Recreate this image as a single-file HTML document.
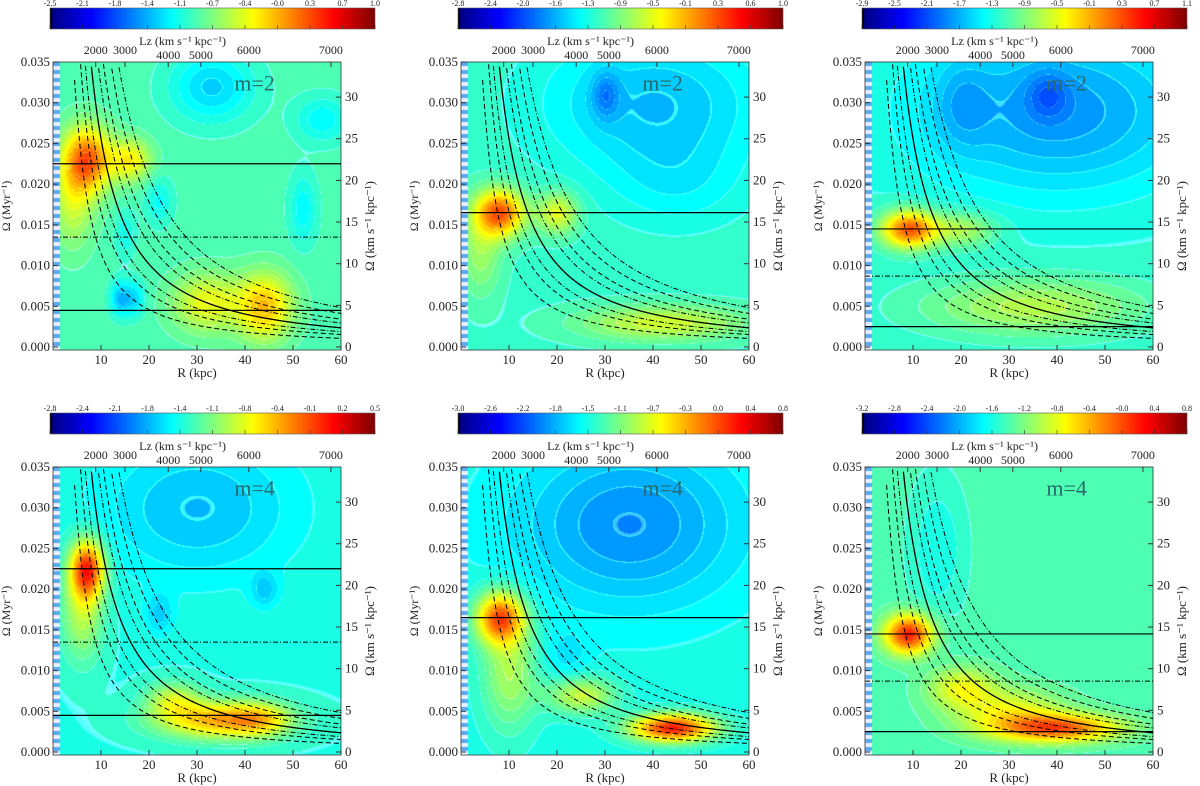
<!DOCTYPE html>
<html><head><meta charset="utf-8">
<style>
html,body{margin:0;padding:0;background:#fff;}
#wrap{position:relative;width:1200px;height:786px;overflow:hidden;font-family:"Liberation Serif",serif;}
canvas{position:absolute;}
svg{position:absolute;left:0;top:0;}
</style></head>
<body>
<div id="wrap">
<svg id="ov" width="1200" height="786"></svg>
</div>
<script>
// ---------- data ----------
const panelTitles = ["m=2","m=2","m=2","m=4","m=4","m=4"];
const cbarLabels = [
 ["-2.5","-2.1","-1.8","-1.4","-1.1","-0.7","-0.4","-0.0","0.3","0.7","1.0"],
 ["-2.8","-2.4","-2.0","-1.6","-1.3","-0.9","-0.5","-0.1","0.3","0.6","1.0"],
 ["-2.9","-2.5","-2.1","-1.7","-1.3","-0.9","-0.5","-0.1","0.3","0.7","1.1"],
 ["-2.8","-2.4","-2.1","-1.8","-1.4","-1.1","-0.8","-0.4","-0.1","0.2","0.5"],
 ["-3.0","-2.6","-2.2","-1.8","-1.5","-1.1","-0.7","-0.3","0.0","0.4","0.8"],
 ["-3.2","-2.8","-2.4","-2.0","-1.6","-1.2","-0.8","-0.4","-0.0","0.4","0.8"]
];
const solidLines = [[0.0225,0.0045],[0.0165],[0.0145,0.0025],[0.0225,0.0045],[0.0165],[0.0145,0.0025]];
const dashdotLines = [[0.0135],[],[0.0087],[0.0135],[],[0.0087]];
const background = [0.45,0.43,0.42,0.41,0.40,0.45];
// blobs: [R, Omega, amplitude(colour units), sigmaR, sigmaOmega]
const blobs = [
 [[7,0.023,0.33,3.5,0.0028],[16,0.023,0.18,3,0.0018],[4,0.018,0.12,3,0.004],[32,0.0055,0.16,5,0.0025],[44,0.005,0.24,4,0.0028],[33,0.032,-0.12,6,0.003],[14,0.006,-0.14,1.5,0.0015],[17,0.006,-0.1,1.5,0.0015],[52,0.017,-0.08,2,0.003],[22,0.018,-0.07,2,0.002],[56,0.028,-0.08,4,0.002],[15,0.014,-0.06,1.5,0.002]],
 [[8,0.0165,0.36,3.5,0.002],[20,0.0165,0.17,3,0.0018],[4,0.012,0.1,3,0.004],[42,0.003,0.15,12,0.0015],[40,0.03,-0.12,16,0.006],[30,0.031,-0.1,2,0.002],[45,0.02,-0.05,10,0.004]],
 [[9,0.0145,0.37,4,0.0016],[20,0.0145,0.13,5,0.0015],[35,0.005,0.13,16,0.0025],[40,0.029,-0.15,20,0.007],[38,0.031,-0.08,3,0.002],[20,0.03,-0.06,4,0.004]],
 [[7,0.0225,0.42,2.5,0.0025],[6,0.017,0.14,3,0.004],[35,0.004,0.3,9,0.0016],[43,0.004,0.12,4,0.0014],[25,0.0065,0.15,4,0.0015],[30,0.03,-0.1,14,0.006],[44,0.02,-0.08,2,0.0015],[22,0.017,-0.08,2,0.0018]],
 [[8,0.0165,0.38,3.5,0.0022],[10,0.01,0.14,4,0.005],[44,0.003,0.45,6,0.0012],[25,0.007,0.17,5,0.0016],[35,0.028,-0.14,16,0.007],[22,0.012,-0.05,3,0.002]],
 [[9,0.0145,0.4,3.5,0.0017],[20,0.008,0.15,5,0.0018],[40,0.003,0.33,9,0.0012],[30,0.005,0.15,8,0.002],[15,0.025,-0.06,4,0.006]]
];
// resonance curve factors & styles: Omega_f(R) = f * k * R^-p
const curveFactors = [0.45,0.65,0.8,1.0,1.25,1.45,1.75,2.05];
const curveStyles  = ["dash","dash","dashdot","solid","dashdot","dash","dash","dashdot"];
const curveK = 0.547, curveP = 1.33;
const rTicks = [10,20,30,40,50,60];
const omTicks = [0,0.005,0.010,0.015,0.020,0.025,0.030,0.035];
const kmTicks = [0,5,10,15,20,25,30];
const lzTicks = ["2000","3000","4000","5000","6000","7000"];
const lzTickR = [8.9,15,24,30.8,40.8,57.9];

// ---------- layout ----------
const OX=[0,408,812], OY=[0,405];
const NS="http://www.w3.org/2000/svg";
const ov=document.getElementById('ov');
function jet(v){v=Math.max(0,Math.min(1,v));
 const r=Math.max(0,Math.min(1,1.5-Math.abs(4*v-3)));
 const g=Math.max(0,Math.min(1,1.5-Math.abs(4*v-2)));
 const b=Math.max(0,Math.min(1,1.5-Math.abs(4*v-1)));
 return [r*255|0,g*255|0,b*255|0];}
function el(tag,attrs,parent){const e=document.createElementNS(NS,tag);for(const k in attrs)e.setAttribute(k,attrs[k]);(parent||ov).appendChild(e);return e;}
function txt(x,y,s,size,anchor,parent,rot){const t=el('text',{x:x,y:y,'font-size':size,'text-anchor':anchor||'middle','font-family':'Liberation Serif, serif',fill:'#222'},parent);if(rot)t.setAttribute('transform','rotate('+rot+' '+x+' '+y+')');t.textContent=s;return t;}

for(let p=0;p<6;p++){
 const ox=OX[p%3], oy=OY[Math.floor(p/3)];
 const x0=53+ox, x1=341+ox, yTop=62+oy, yBot=350+oy, y0=347+oy;
 const sx=R=>x0+(x1-x0)*R/60;
 const sy=o=>y0-(y0-yTop)*o/0.035;
 const g=el('g',{},ov);
 
 
 const W=x1-x0, H=yBot-yTop;
 const cv=document.createElement('canvas');cv.width=W;cv.height=H;
 cv.style.left=x0+'px';cv.style.top=yTop+'px';
 
 
 document.getElementById('wrap').insertBefore(cv,ov);
 const ctx=cv.getContext('2d');const img=ctx.createImageData(W,H);
 for(let j=0;j<H;j++){const om=(y0-(yTop+j))/(y0-yTop)*0.035;
  for(let i=0;i<W;i++){const R=i/W*60;
   let v=background[p];
   for(const b of blobs[p]){const dr=(R-b[0])/b[3],dom=(om-b[1])/b[4];v+=b[2]*Math.exp(-0.5*(dr*dr+dom*dom));}
   let c;
   if(R<1.3){c=((j>>2)%2)?[235,240,255]:[90,170,240];}
   else{
   const q=Math.round(v*40)/40;
   c=jet(q);
   const edge=Math.abs(v*40-Math.round(v*40))>0.47;
   if(edge)c=[Math.min(255,c[0]+60),Math.min(255,c[1]+60),Math.min(255,c[2]+60)];}
   const k=(j*W+i)*4;
   img.data[k]=c[0];img.data[k+1]=c[1];img.data[k+2]=c[2];img.data[k+3]=255;}}
 ctx.putImageData(img,0,0);
 el('rect',{x:x0,y:yTop,width:W,height:H,fill:'none',stroke:'#333','stroke-width':0.8},g);
 for(const o of solidLines[p]){const l=el('line',{x1:x0,x2:x1,y1:sy(o),y2:sy(o),stroke:'#000','stroke-width':1.2},g);}
 for(const o of dashdotLines[p]){const l=el('line',{x1:x0,x2:x1,y1:sy(o),y2:sy(o),stroke:'#000','stroke-width':1,'stroke-dasharray':'5,2,1,2'},g);}
 curveFactors.forEach((f,ci)=>{let d='';let started=false;
  for(let R=0.5;R<=60;R+=0.25){let o=f*curveK*Math.pow(R,-curveP);
   if(ci===0)o*= (1-Math.exp(-Math.pow(R/2.2,2)));
   if(o>0.035){started=false;continue;}
   d+=(started?'L':'M')+sx(R).toFixed(1)+','+sy(o).toFixed(1);started=true;}
  const st=curveStyles[ci];
  const c=el('path',{d:d,fill:'none',stroke:'#000','stroke-width':st==='solid'?1.3:1,'stroke-dasharray':st==='dash'?'5,3':st==='dashdot'?'5,2,1,2':'none'},g);
  });
 for(const r of rTicks){el('line',{x1:sx(r),x2:sx(r),y1:yBot,y2:yBot-5,stroke:'#333'},g);txt(sx(r),yBot+14,String(r),13,'middle',g);}
 for(const o of omTicks){el('line',{x1:x0,x2:x0+5,y1:sy(o),y2:sy(o),stroke:'#333'},g);txt(x0-3,sy(o)+4,o.toFixed(3),13,'end',g);}
 for(const k of kmTicks){const o=k*0.001023;el('line',{x1:x1,x2:x1-5,y1:sy(o),y2:sy(o),stroke:'#333'},g);txt(x1+4,sy(o)+4,String(k),13,'start',g);}
 lzTicks.forEach((s,i)=>{const xx=sx(lzTickR[i]);el('line',{x1:xx,x2:xx,y1:yTop,y2:yTop+5,stroke:'#333'},g);txt(xx,(i===2||i===3)?yTop-3:yTop-8,s,12,'middle',g);});
 const xl=txt((x0+x1)/2,yBot+27,'R (kpc)',13,'middle',g);
 const yl=txt(x0-43,(yTop+yBot)/2,'Ω (Myr⁻¹)',12,'middle',g,-90);
 const yr=txt(x1+33,(yTop+yBot)/2+20,'Ω (km s⁻¹ kpc⁻¹)',13,'middle',g,-90);
 const tl=txt(sx(27),yTop-17,'Lz (km s⁻¹ kpc⁻¹)',12,'middle',g);
 const ti=txt(sx(42),sy(0.0315),panelTitles[p],22,'middle',g);ti.setAttribute('fill','#2a6a6a');
 const cbx0=50+ox, cbx1=375+ox, cby=8+oy;
 const cb=document.createElement('canvas');cb.width=cbx1-cbx0;cb.height=21;cb.style.left=cbx0+'px';cb.style.top=cby+'px';
 
 
 document.getElementById('wrap').insertBefore(cb,ov);
 const bc=cb.getContext('2d');
 for(let i=0;i<cb.width;i++){const c=jet(i/(cb.width-1));bc.fillStyle='rgb('+c+')';bc.fillRect(i,0,1,21);}
 bc.fillStyle='#000';bc.fillRect(0,0,2,21);
 el('rect',{x:cbx0,y:cby,width:cbx1-cbx0,height:21,fill:'none',stroke:'#555','stroke-width':0.6},g);
 cbarLabels[p].forEach((s,i)=>{const xx=cbx0+(cbx1-cbx0)*i/(cbarLabels[p].length-1);
  el('line',{x1:xx,x2:xx,y1:cby+21,y2:cby+17,stroke:'#333','stroke-width':0.6},g);
  txt(xx,cby-2,s,8,'middle',g);});
}
</script>
</body></html>
